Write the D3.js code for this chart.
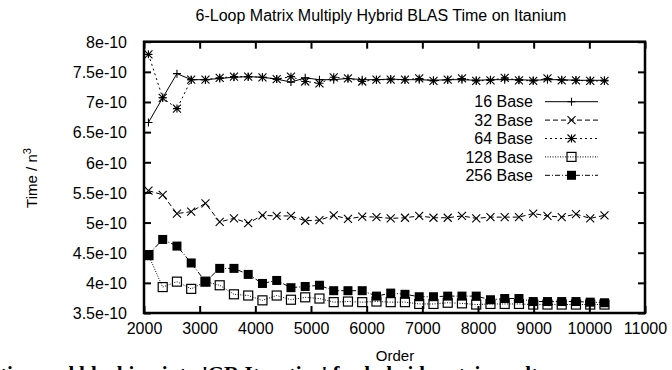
<!DOCTYPE html>
<html><head><meta charset="utf-8">
<script src="https://cdn.jsdelivr.net/npm/d3@7"></script>
<style>
html,body{margin:0;padding:0;background:#fff;overflow:hidden;}
svg{display:block;}
text{font-family:"Liberation Sans",Arial,Helvetica,sans-serif;fill:#000;}
</style></head>
<body>
<svg id="chart" width="672" height="370"></svg>
<script>
const titleText = "6-Loop Matrix Multiply Hybrid BLAS Time on Itanium";
const xLabel = "Order";
const orders = [2080,2336,2592,2848,3104,3360,3616,3872,4128,4384,4640,4896,5152,5408,5664,5920,6176,6432,6688,6944,7200,7456,7712,7968,8224,8480,8736,8992,9248,9504,9760,10016,10272];
const base16 = [6.66,7.07,7.47,7.37,7.37,7.39,7.41,7.42,7.41,7.38,7.33,7.40,7.37,7.37,7.39,7.37,7.37,
  7.38,7.37,7.37,7.36,7.37,7.37,7.36,7.37,7.37,7.37,7.36,7.37,7.37,7.36,7.36,7.36].map(v=>v*1e-10);
const base32 = [5.53,5.46,5.15,5.18,5.32,5.01,5.07,4.99,5.12,5.11,5.11,5.03,5.04,5.12,5.06,5.10,5.09,
  5.07,5.08,5.11,5.08,5.08,5.11,5.07,5.09,5.09,5.09,5.15,5.11,5.09,5.14,5.07,5.12].map(v=>v*1e-10);
const base64 = [7.79,7.07,6.89,7.37,7.37,7.40,7.42,7.42,7.41,7.38,7.42,7.34,7.31,7.41,7.39,7.34,7.37,
  7.37,7.37,7.39,7.35,7.37,7.39,7.35,7.36,7.40,7.36,7.35,7.39,7.36,7.36,7.35,7.35].map(v=>v*1e-10);
const base128 = [4.46,3.93,4.02,3.90,4.02,3.96,3.81,3.79,3.71,3.79,3.72,3.76,3.74,3.68,3.69,3.68,3.69,
  3.68,3.68,3.65,3.65,3.67,3.66,3.64,3.65,3.65,3.65,3.64,3.64,3.64,3.64,3.64,3.64].map(v=>v*1e-10);
const base256 = [4.47,4.72,4.61,4.33,4.02,4.24,4.24,4.14,3.99,4.04,3.92,3.94,3.96,3.87,3.87,3.87,3.78,
  3.83,3.81,3.77,3.77,3.78,3.78,3.78,3.72,3.74,3.74,3.69,3.69,3.69,3.69,3.68,3.67].map(v=>v*1e-10);
const seriesNames = ["16 Base","32 Base","64 Base","128 Base","256 Base"];
const xTicks = [2000,3000,4000,5000,6000,7000,8000,9000,10000,11000];
const yTicks = [3.5e-10,4e-10,4.5e-10,5e-10,5.5e-10,6e-10,6.5e-10,7e-10,7.5e-10,8e-10];

const svg = d3.select("#chart");
const L=144, R=645, T=41.7, B=313;
const x = d3.scaleLinear().domain([2000,11000]).range([L,R]);
const y = d3.scaleLinear().domain([3.5e-10,8e-10]).range([B,T]);
const yFmt = d => (+(d*1e10).toFixed(2)) + "e-10";

// axes
const gb = svg.append("g").attr("transform",`translate(0,${B})`)
  .call(d3.axisBottom(x).tickValues(xTicks).tickFormat(d3.format("d")).tickSizeInner(-7).tickSizeOuter(0).tickPadding(10));
const gt = svg.append("g").attr("transform",`translate(0,${T})`)
  .call(d3.axisTop(x).tickValues(xTicks).tickFormat("").tickSizeInner(-7).tickSizeOuter(0));
const gl = svg.append("g").attr("transform",`translate(${L},0)`)
  .call(d3.axisLeft(y).tickValues(yTicks).tickFormat(yFmt).tickSizeInner(-7).tickSizeOuter(0).tickPadding(17));
const gr = svg.append("g").attr("transform",`translate(${R},0)`)
  .call(d3.axisRight(y).tickValues(yTicks).tickFormat("").tickSizeInner(-7).tickSizeOuter(0));
[gb,gt,gl,gr].forEach(g=>{
  g.select(".domain").remove();
  g.selectAll(".tick line").attr("stroke","#000").attr("stroke-width",2);
  g.selectAll(".tick text").style("font-size","16px").attr("fill","#000");
});
gl.selectAll(".tick text").attr("dy","0.36em");

svg.append("rect").attr("x",L).attr("y",T).attr("width",R-L).attr("height",B-T)
  .attr("fill","none").attr("stroke","#000").attr("stroke-width",2.5);

// markers
function marker(g, type, cx, cy){
  const s=4;
  if(type==="plus"){
    g.append("path").attr("d",`M${cx-s},${cy}H${cx+s}M${cx},${cy-s}V${cy+s}`).attr("stroke","#000").attr("stroke-width",1.1);
  } else if(type==="cross"){
    g.append("path").attr("d",`M${cx-s},${cy-s}L${cx+s},${cy+s}M${cx-s},${cy+s}L${cx+s},${cy-s}`).attr("stroke","#000").attr("stroke-width",1.1);
  } else if(type==="star"){
    g.append("path").attr("d",`M${cx-s},${cy}H${cx+s}M${cx},${cy-s}V${cy+s}M${cx-s},${cy-s}L${cx+s},${cy+s}M${cx-s},${cy+s}L${cx+s},${cy-s}`).attr("stroke","#000").attr("stroke-width",1.1);
  } else if(type==="box"){
    g.append("rect").attr("x",cx-4.5).attr("y",cy-4.5).attr("width",9).attr("height",9).attr("fill","none").attr("stroke","#000").attr("stroke-width",1.2);
  } else if(type==="fbox"){
    g.append("rect").attr("x",cx-4.5).attr("y",cy-4.5).attr("width",9).attr("height",9).attr("fill","#000");
  }
}

const series = [
  {name:seriesNames[0], vals:base16, dash:null, m:"plus"},
  {name:seriesNames[1], vals:base32, dash:"5,3", m:"cross"},
  {name:seriesNames[2], vals:base64, dash:"2,3", m:"star"},
  {name:seriesNames[3], vals:base128, dash:"1,1.5", m:"box"},
  {name:seriesNames[4], vals:base256, dash:"5,2,1,2", m:"fbox"}
];
const line = d3.line().x(d=>x(d[0])).y(d=>y(d[1]));
const legX = 533, legY0 = 101.7, legDy = 18.4;
series.forEach((s,i)=>{
  const g = svg.append("g");
  const pts = orders.map((o,j)=>[o,s.vals[j]]);
  g.append("path").attr("d",line(pts)).attr("fill","none").attr("stroke","#000").attr("stroke-width",1)
    .attr("stroke-dasharray",s.dash);
  pts.forEach(p=>marker(g,s.m,x(p[0]),y(p[1])));
  // legend
  const ly = legY0 + i*legDy;
  g.append("text").attr("x",legX).attr("y",ly).attr("dy","0.36em").attr("text-anchor","end")
    .style("font-size","16px").text(s.name);
  g.append("line").attr("x1",545).attr("x2",598).attr("y1",ly).attr("y2",ly)
    .attr("stroke","#000").attr("stroke-width",1).attr("stroke-dasharray",s.dash);
  marker(g,s.m,571.5,ly);
});

// title & labels
svg.append("text").attr("x",381).attr("y",21).attr("text-anchor","middle").style("font-size","16px").text(titleText);
svg.append("text").attr("x",395).attr("y",361).attr("text-anchor","middle").style("font-size","15px").text(xLabel);
const yl = svg.append("text").attr("transform","translate(37,178) rotate(-90)").attr("text-anchor","middle").style("font-size","15px");
yl.append("tspan").text("Time / n");
yl.append("tspan").attr("dy","-6").style("font-size","11px").text("3");

// cut-off caption at bottom
svg.append("text").attr("x",0).attr("y",381).style("font-family","'Liberation Serif','Times New Roman',serif")
  .style("font-weight","bold").style("font-size","21px")
  .text("ting and blocking into 'GR Iterative' for hybrid matrix mult");
</script>
</body></html>
